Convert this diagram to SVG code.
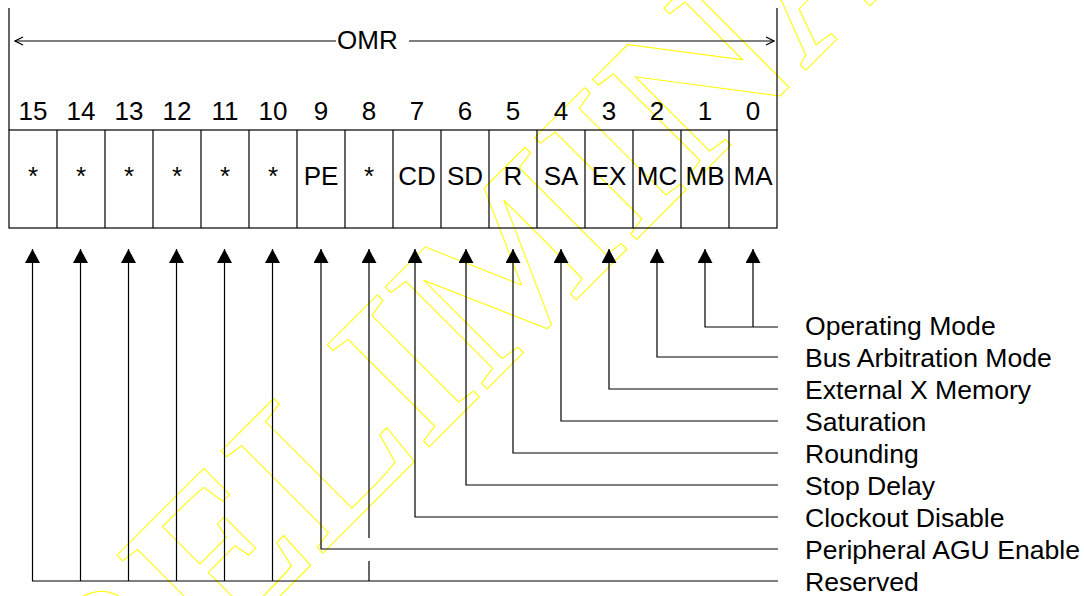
<svg xmlns="http://www.w3.org/2000/svg" width="1084" height="596" viewBox="0 0 1084 596">
<style>
.ln{stroke:#000;stroke-width:1.2;fill:none}
.t{font-family:"Liberation Sans",Arial,sans-serif;font-size:26px;fill:#000}
.lb{font-size:26.6px}
.c{text-anchor:middle}
.wm{font-family:"Liberation Serif","Times New Roman",serif;font-weight:bold;font-size:220px;fill:none;stroke:#ffff00;stroke-width:1}
</style>
<defs>
<marker id="tri" viewBox="0 0 14 15" refX="14" refY="7.5" markerWidth="14" markerHeight="15" markerUnits="userSpaceOnUse" orient="auto">
<path d="M0,0 L14,7.5 L0,15 z" fill="#000"/>
</marker>
<marker id="open" viewBox="0 0 10 10" refX="9" refY="5" markerWidth="10" markerHeight="10" markerUnits="userSpaceOnUse" orient="auto">
<path d="M1,1 L9,5 L1,9" fill="none" stroke="#000" stroke-width="1.2"/>
</marker>
</defs>
<rect width="1084" height="596" fill="#fff"/>
<g id="watermark">
<text class="wm" transform="translate(9,867) rotate(-45)" x="0" y="0">PRELIMINARY</text>
</g>
<g id="omr-span">
<line class="ln" x1="9" y1="8" x2="9" y2="130"/>
<line class="ln" x1="777" y1="8" x2="777" y2="130"/>
<line class="ln" x1="336" y1="41" x2="15" y2="41" marker-end="url(#open)"/>
<line class="ln" x1="409" y1="41" x2="774" y2="41" marker-end="url(#open)"/>
<text class="t" x="337" y="49">OMR</text>
</g>
<g id="bit-numbers" class="t c">
<text x="33" y="120">15</text><text x="81" y="120">14</text><text x="129" y="120">13</text><text x="177" y="120">12</text>
<text x="225" y="120">11</text><text x="273" y="120">10</text><text x="321" y="120">9</text><text x="369" y="120">8</text>
<text x="417" y="120">7</text><text x="465" y="120">6</text><text x="513" y="120">5</text><text x="561" y="120">4</text>
<text x="609" y="120">3</text><text x="657" y="120">2</text><text x="705" y="120">1</text><text x="753" y="120">0</text>
</g>
<g id="register">
<rect class="ln" x="9" y="130" width="768" height="98"/>
<path class="ln" d="M57,130V228M105,130V228M153,130V228M201,130V228M249,130V228M297,130V228M345,130V228M393,130V228M441,130V228M489,130V228M537,130V228M585,130V228M633,130V228M681,130V228M729,130V228"/>
<g class="t c">
<text x="33" y="185">*</text><text x="81" y="185">*</text><text x="129" y="185">*</text><text x="177" y="185">*</text>
<text x="225" y="185">*</text><text x="273" y="185">*</text><text x="321" y="185">PE</text><text x="369" y="185">*</text>
<text x="417" y="185">CD</text><text x="465" y="185">SD</text><text x="513" y="185">R</text><text x="561" y="185">SA</text>
<text x="609" y="185">EX</text><text x="657" y="185">MC</text><text x="705" y="185">MB</text><text x="753" y="185">MA</text>
</g>
</g>
<g id="connectors" class="ln">
<path d="M778,327H705V249" marker-end="url(#tri)"/>
<path d="M753,327V249" marker-end="url(#tri)"/>
<path d="M778,357H657V249" marker-end="url(#tri)"/>
<path d="M778,389H609V249" marker-end="url(#tri)"/>
<path d="M778,421H561V249" marker-end="url(#tri)"/>
<path d="M778,453H513V249" marker-end="url(#tri)"/>
<path d="M778,485H466V249" marker-end="url(#tri)"/>
<path d="M778,517H415V249" marker-end="url(#tri)"/>
<path d="M778,549H321V249" marker-end="url(#tri)"/>
<path d="M369,538V249" marker-end="url(#tri)"/>
<path d="M369,561V581"/>
<path d="M778,581H32.5V249" marker-end="url(#tri)"/>
<path d="M80.5,581V249" marker-end="url(#tri)"/>
<path d="M128.5,581V249" marker-end="url(#tri)"/>
<path d="M176.5,581V249" marker-end="url(#tri)"/>
<path d="M224.5,581V249" marker-end="url(#tri)"/>
<path d="M272.5,581V249" marker-end="url(#tri)"/>
</g>
<g id="labels" class="t lb">
<text x="805" y="335">Operating Mode</text>
<text x="805" y="367">Bus Arbitration Mode</text>
<text x="805" y="399">External X Memory</text>
<text x="805" y="431">Saturation</text>
<text x="805" y="463">Rounding</text>
<text x="805" y="495">Stop Delay</text>
<text x="805" y="527">Clockout Disable</text>
<text x="805" y="559">Peripheral AGU Enable</text>
<text x="805" y="591">Reserved</text>
</g>
</svg>
